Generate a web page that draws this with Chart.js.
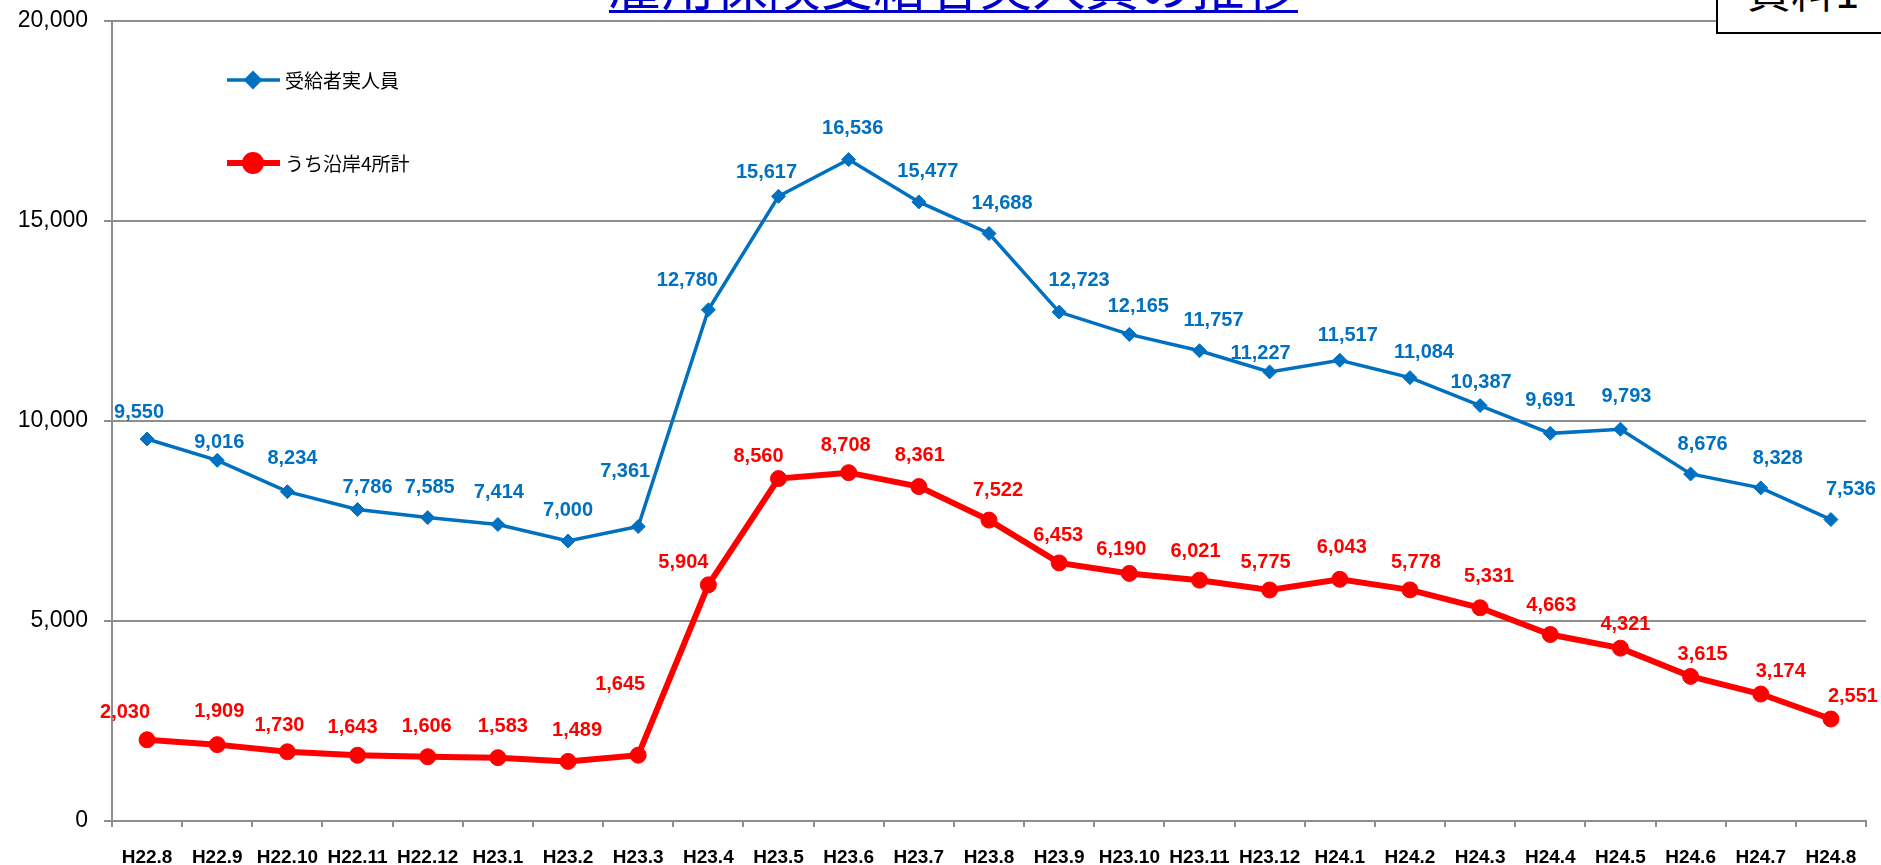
<!DOCTYPE html>
<html>
<head>
<meta charset="utf-8">
<script src="https://cdn.jsdelivr.net/npm/chart.js@4.4.1/dist/chart.umd.min.js"></script>
<style>
  html, body { margin: 0; padding: 0; background: #fff; overflow: hidden; }
  #wrap { position: relative; width: 1881px; height: 865px; }
  #title { position: absolute; left: 453px; width: 1000px; top: -43px; display: flex; justify-content: center; }
  #title span { display: block; font-family: "Noto Sans CJK JP"; font-size: 53px; line-height: 53px; height: 53px;
                color: #0000cc; border-bottom: 3px solid #0000cc; white-space: nowrap; }
  #box { position: absolute; left: 1716px; top: -28px; width: 200px; height: 62px; box-sizing: border-box;
         border: 2px solid #000; background: #fff; }
  #box span { position: absolute; left: 29px; top: -7px; font-family: "Noto Sans CJK JP"; font-size: 44px;
              line-height: 44px; color: #000; white-space: nowrap; }
</style>
</head>
<body>
<div id="wrap">
  <canvas id="lineChart" width="1881" height="865"></canvas>
  <div id="title"><span>雇用保険受給者実人員の推移</span></div>
  <div id="box"><span>資料1</span></div>
</div>
<script>
// months (Heisei era)
var months = ["H22.8","H22.9","H22.10","H22.11","H22.12",
  "H23.1","H23.2","H23.3","H23.4","H23.5","H23.6","H23.7","H23.8","H23.9","H23.10","H23.11","H23.12",
  "H24.1","H24.2","H24.3","H24.4","H24.5","H24.6","H24.7","H24.8"];

var totalRecipients = [9550, 9016, 8234, 7786, 7585, 7414, 7000, 7361, 12780, 15617, 16536, 15477, 14688,
  12723, 12165, 11757, 11227, 11517, 11084, 10387, 9691, 9793, 8676, 8328, 7536];

var coastalFour = [2030, 1909, 1730, 1643, 1606, 1583, 1489, 1645, 5904, 8560, 8708, 8361, 7522,
  6453, 6190, 6021, 5775, 6043, 5778, 5331, 4663, 4321, 3615, 3174, 2551];

var yTicks = [0, 5000, 10000, 15000, 20000];

// where each value label sits relative to its point (dx, dy)
var blueLabelShift = [[-8,-27],[2,-18],[5,-33],[10,-22],[2,-30],[1,-32],[0,-31],[-13,-55],[-21,-29],[-12,-24],
  [4,-31],[9,-30],[13,-30],[20,-32],[9,-28],[14,-30],[-9,-18],[8,-25],[14,-25],[1,-23],[0,-33],[6,-33],
  [12,-29],[17,-29],[20,-30]];
var redLabelShift = [[-22,-27],[2,-33],[-8,-26],[-5,-28],[-1,-30],[5,-31],[9,-31],[-18,-71],[-25,-22],[-20,-22],
  [-3,-27],[1,-31],[9,-30],[-1,-27],[-8,-24],[-4,-29],[-4,-28],[2,-32],[6,-27],[9,-31],[1,-29],[5,-24],
  [12,-22],[20,-23],[22,-22]];

var BLUE = '#0070c0';
var RED = '#ff0000';
var GRID = '#8e8e8e';

// value labels above the points
var valueLabels = {
  id: 'valueLabels',
  afterDatasetsDraw: function(chart) {
    var ctx = chart.ctx;
    ctx.save();
    ctx.font = 'bold 20px "Liberation Sans", Arial, sans-serif';
    ctx.textAlign = 'center';
    ctx.textBaseline = 'middle';
    chart.data.datasets.forEach(function(ds, di) {
      var meta = chart.getDatasetMeta(di);
      var shift = di === 0 ? blueLabelShift : redLabelShift;
      ctx.fillStyle = ds.borderColor;
      meta.data.forEach(function(pt, i) {
        ctx.fillText(ds.data[i].toLocaleString('en-US'), pt.x + shift[i][0], pt.y + shift[i][1]);
      });
    });
    ctx.restore();
  }
};

// legend sits inside the plot, top left
var innerLegend = {
  id: 'innerLegend',
  afterDraw: function(chart) {
    var ctx = chart.ctx;
    var rows = [
      {text: '受給者実人員', color: BLUE, lw: 3.5, style: 'rectRot', r: 7, y: 80},
      {text: 'うち沿岸4所計', color: RED, lw: 6, style: 'circle', r: 8, y: 163}
    ];
    ctx.save();
    rows.forEach(function(row) {
      ctx.strokeStyle = row.color;
      ctx.lineWidth = row.lw;
      ctx.beginPath();
      ctx.moveTo(227, row.y);
      ctx.lineTo(280, row.y);
      ctx.stroke();
      Chart.helpers.drawPoint(ctx, {pointStyle: row.style, radius: row.r, borderWidth: 1}, 253, row.y);
      ctx.fillStyle = row.color;
      ctx.fill();
      ctx.fillStyle = '#000';
      ctx.font = '19px "Noto Sans CJK JP"';
      ctx.textAlign = 'left';
      ctx.textBaseline = 'middle';
      ctx.fillText(row.text, 285, row.y + 1);
    });
    ctx.restore();
  }
};

var ctx = document.getElementById('lineChart');
var lineChart = new Chart(ctx, {
  type: 'line',
  data: {
    labels: months,
    datasets: [{
      label: '受給者実人員',
      data: totalRecipients,
      borderColor: BLUE,
      backgroundColor: BLUE,
      borderWidth: 3.5,
      pointStyle: 'rectRot',
      pointRadius: 7,
      pointBorderWidth: 1,
      tension: 0
    }, {
      label: 'うち沿岸4所計',
      data: coastalFour,
      borderColor: RED,
      backgroundColor: RED,
      borderWidth: 6,
      pointStyle: 'circle',
      pointRadius: 8,
      pointBorderWidth: 1,
      tension: 0
    }]
  },
  options: {
    responsive: false,
    animation: false,
    devicePixelRatio: 1,
    layout: { padding: { top: 21, right: 15, left: 0, bottom: 0 } },
    plugins: {
      legend: { display: false },
      title: { display: false },
      tooltip: { enabled: false }
    },
    scales: {
      x: {
        offset: true,
        grid: { display: true, drawOnChartArea: false, offset: true, color: GRID, lineWidth: 2, tickLength: 6 },
        border: { color: GRID, width: 2 },
        ticks: {
          autoSkip: false, maxRotation: 0, minRotation: 0, padding: 19,
          color: '#000',
          font: { family: '"Liberation Sans", Arial, sans-serif', size: 19, weight: 'bold' }
        },
        afterFit: function(scale) { scale.height = 44; }
      },
      y: {
        min: 0,
        max: 20000,
        afterBuildTicks: function(scale) {
          scale.ticks = yTicks.map(function(v) { return {value: v}; });
        },
        grid: { color: GRID, lineWidth: 2, tickLength: 8 },
        border: { color: GRID, width: 2 },
        ticks: {
          padding: 16,
          color: '#000',
          font: { family: '"Liberation Sans", Arial, sans-serif', size: 23 },
          callback: function(v) { return Number(v).toLocaleString('en-US'); }
        },
        afterFit: function(scale) {
          scale.width = 112;
          scale.paddingTop = 0;
          scale.paddingBottom = 0;
        }
      }
    }
  },
  plugins: [valueLabels, innerLegend]
});
</script>
</body>
</html>
